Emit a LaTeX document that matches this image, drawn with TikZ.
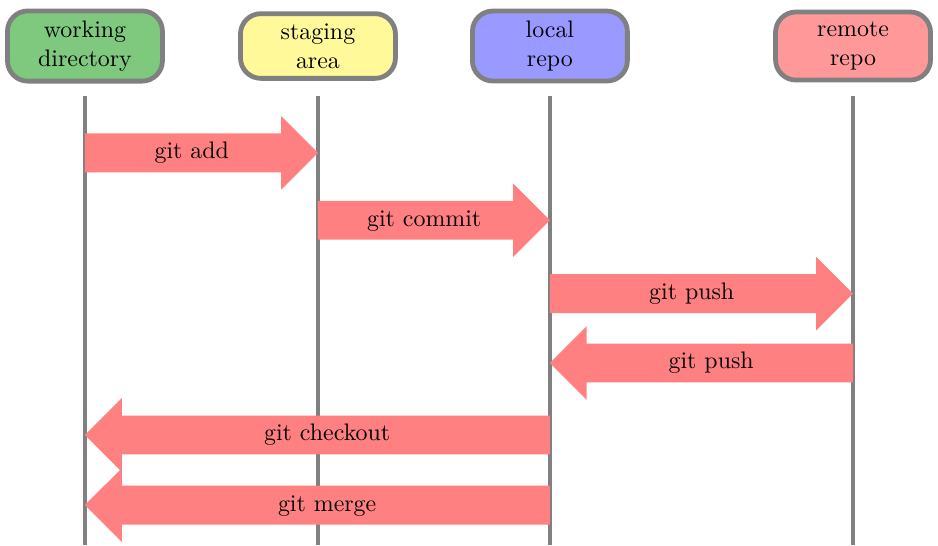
\documentclass[tikz,border=0pt]{standalone}
\usetikzlibrary{shapes.arrows}
\definecolor{wdgreen}{RGB}{127,201,127}
\definecolor{sayellow}{RGB}{255,249,153}
\definecolor{lrblue}{RGB}{153,153,255}
\definecolor{rrred}{RGB}{255,153,153}

\begin{document}
\begin{tikzpicture}[
    area/.style={draw=gray, line width=2pt, rounded corners=0.3cm,
      align=center, minimum width=2.28cm, inner ysep=4.2pt},
    lifeline/.style={gray, line width=1.6pt},
    gitcmd/.style={single arrow, fill=red!50, minimum width=1.07cm,
      single arrow head extend=0.255cm, inner ysep=3.45pt,
      text height=7pt, text depth=2pt, outer sep=0pt, anchor=tail},
    gitback/.style={gitcmd, shape border rotate=180}]
    \useasboundingbox (0,0) rectangle (13.8,-8.02);
    \node[area, fill=wdgreen] (wd) at (1.25,-0.677) {working\\directory};
    \node[area, fill=sayellow] (sa) at (4.678,-0.677) {staging\\area};
    \node[area, fill=lrblue] (lr) at (8.09,-0.677) {local\\repo};
    \node[area, fill=rrred] (rr) at (12.55,-0.677) {remote\\repo};
    \coordinate (top) at (0,-1.41);
    \coordinate (bot) at (0,-8.02);
    \draw[lifeline] (wd |- top) -- (wd |- bot);
    \draw[lifeline] (sa |- top) -- (sa |- bot);
    \draw[lifeline] (lr |- top) -- (lr |- bot);
    \draw[lifeline] (rr |- top) -- (rr |- bot);
    \node[gitcmd, minimum height=3.428cm] (add) at (1.25,-2.25) {git add};
    \node[gitcmd, minimum height=3.412cm] (commit) at (4.678,-3.24) {git commit};
    \node[gitcmd, minimum height=4.46cm] (push) at (8.09,-4.32) {git push};
    \node[gitback, minimum height=4.46cm] (fetch) at (12.55,-5.34) {git push};
    \node[gitback, minimum height=6.84cm] (checkout) at (8.09,-6.40) {git checkout};
    \node[gitback, minimum height=6.84cm] (merge) at (8.09,-7.43) {git merge};
  \end{tikzpicture}
\end{document}
